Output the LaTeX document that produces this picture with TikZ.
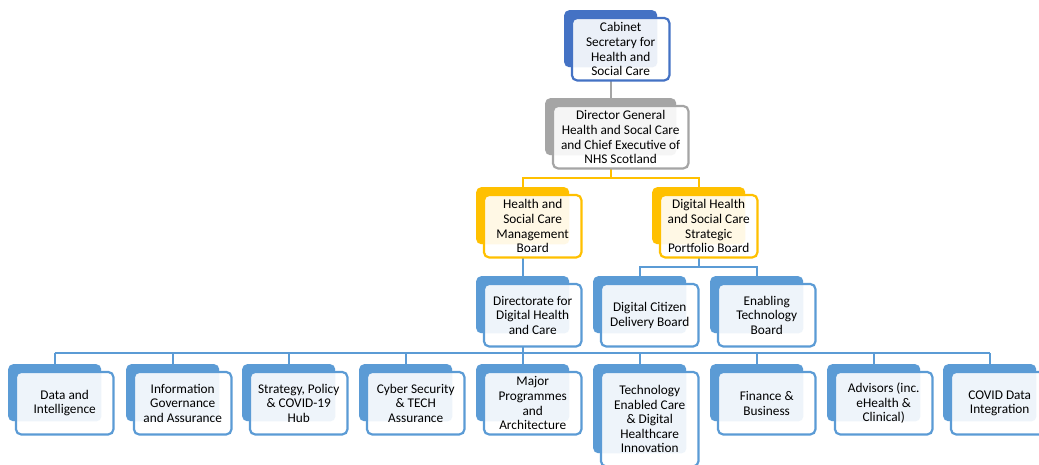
\documentclass[tikz,border=0pt]{standalone}
\usepackage{fontspec}
\setmainfont{Carlito}
\definecolor{bl}{HTML}{5B9BD5}
\definecolor{dbl}{HTML}{4472C4}
\definecolor{gr}{HTML}{A5A5A5}
\definecolor{yl}{HTML}{FFC000}
\pgfdeclarelayer{bg}
\pgfsetlayers{bg,main}
\tikzset{
  backbox/.style={rectangle, rounded corners=5, anchor=north west, inner sep=0pt, draw=none},
  frontbox/.style={rectangle, rounded corners=5, anchor=north west, inner sep=0pt, fill=white, draw=none},
  boxtxt/.style={align=center, inner sep=0pt, text=black, font=\fontsize{13.3}{14.6}\selectfont},
  conn/.style={line width=2pt},
}
\newcommand\obox[7]{%
  \node[backbox, fill=#6, minimum width=#4, minimum height=#5] (#1-b) at (#2,#3) {};
  \node[frontbox, minimum width=#4+4, minimum height=#5+5] (#1) at (#2+8,#3+8) {};
  \fill[#6, fill opacity=0.1, rounded corners=5] (#1-b.north west) rectangle (#1-b.south east);
  \draw[#6, line width=2.2pt, rounded corners=5] (#1.north west) rectangle (#1.south east);
  \node[boxtxt] (#1-t) at (#1.center) {#7};
}
\begin{document}
\begin{tikzpicture}[x=1pt,y=-1pt]
\useasboundingbox (0,0) rectangle (1039,464);
\obox{top}{564}{10}{93}{57}{dbl}{Cabinet\\Secretary for\\Health and\\Social Care}
\obox{dg}{545}{98}{131}{57}{gr}{Director General\\Health and Socal Care\\and Chief Executive of\\NHS Scotland}
\obox{hsc}{476}{187}{93}{57}{yl}{Health and\\Social Care\\Management\\Board}
\obox{dhs}{652}{187}{93}{57}{yl}{Digital Health\\and Social Care\\Strategic\\Portfolio Board}
\obox{dir}{476}{276}{93}{57}{bl}{Directorate for\\Digital Health\\and Care}
\obox{dcd}{593}{276}{93}{57}{bl}{Digital Citizen\\Delivery Board}
\obox{etb}{710}{276}{93}{57}{bl}{Enabling\\Technology\\Board}
\obox{b1}{8}{364}{93}{57}{bl}{Data and\\Intelligence}
\obox{b2}{126}{364}{93}{57}{bl}{Information\\Governance\\and Assurance}
\obox{b3}{242}{364}{93}{57}{bl}{Strategy, Policy\\\& COVID-19\\Hub}
\obox{b4}{359}{364}{93}{57}{bl}{Cyber Security\\\& TECH\\Assurance}
\obox{b5}{476}{364}{93}{57}{bl}{Major\\Programmes\\and\\Architecture}
\obox{b6}{593}{364}{93}{89}{bl}{Technology\\Enabled Care\\\& Digital\\Healthcare\\Innovation}
\obox{b7}{710}{364}{93}{57}{bl}{Finance \&\\Business}
\obox{b8}{827}{364}{93}{57}{bl}{Advisors (inc.\\eHealth \&\\Clinical)}
\obox{b9}{943}{364}{93}{57}{bl}{COVID Data\\Integration}
\coordinate (busA) at (0,178);
\coordinate (busB) at (0,267);
\coordinate (busC) at (0,353);
\begin{pgfonlayer}{bg}
  \draw[conn, gr] (top-b.center) -- (dg-b.center);
  \draw[conn, yl] (dg-b.center) -- (dg-b.center |- busA) -| (hsc-b.center);
  \draw[conn, yl] (dg-b.center |- busA) -| (dhs-b.center);
  \draw[conn, bl] (hsc-b.center) -- (dir-b.center);
  \draw[conn, bl] (dhs-b.center) -- (dhs-b.center |- busB) -| (dcd-b.center);
  \draw[conn, bl] (dhs-b.center |- busB) -| (etb-b.center);
  \draw[conn, bl] (dir-b.center) -- (dir-b.center |- busC);
  \draw[conn, bl] (b1-b.center |- busC) -- (b9-b.center |- busC);
  \foreach \b in {b1,b2,b3,b4,b5,b6,b7,b8,b9}
    \draw[conn, bl] (\b-b.center |- busC) -- (\b-b.center);
\end{pgfonlayer}
\end{tikzpicture}
\end{document}
